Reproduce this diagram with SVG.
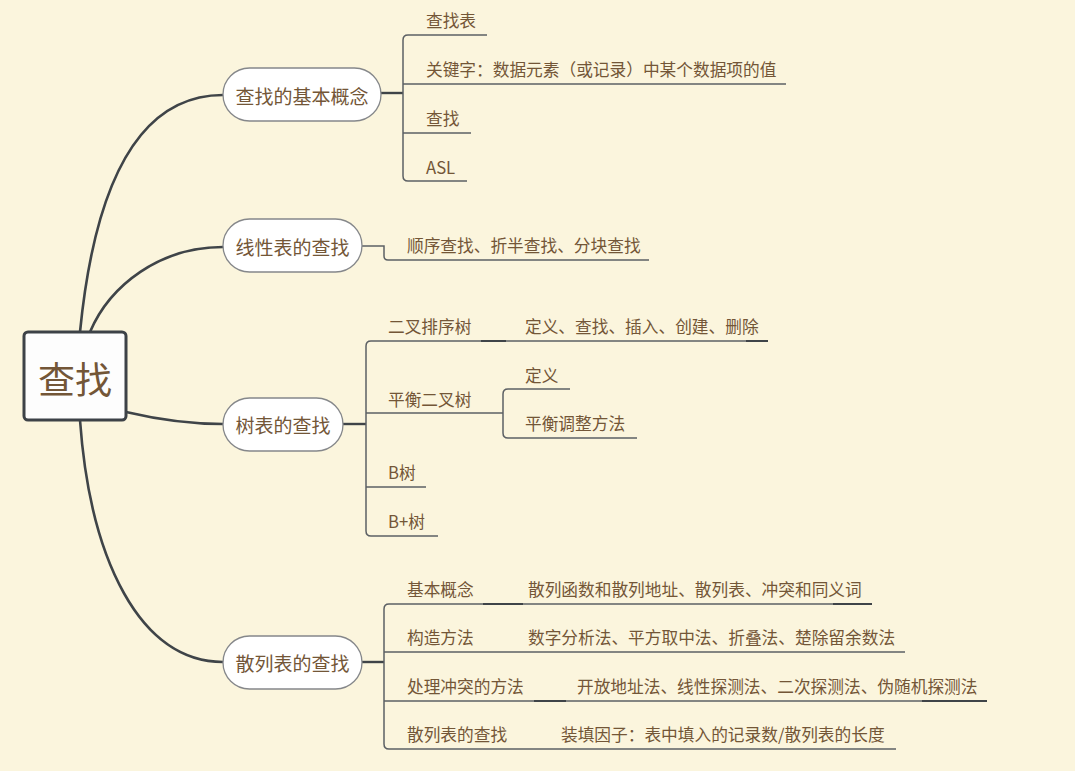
<svg xmlns="http://www.w3.org/2000/svg" width="1075" height="771" viewBox="0 0 1075 771">
<style>
.bg{fill:#fbf5dd}
.main{fill:none;stroke:#3f4448;stroke-width:2.6;stroke-linecap:round}
.sub{fill:none;stroke:#5c6064;stroke-width:1.5}
.stub{fill:none;stroke:#3f4448;stroke-width:2.4}
.ov{fill:none;stroke:#3f4448;stroke-width:1.8}
.node{fill:#ffffff;stroke:#85878a;stroke-width:1.3}
.root{fill:#fdfdfd;stroke:#3d4247;stroke-width:3}
text{font-family:"Noto Sans CJK SC","Noto Sans",sans-serif;fill:#735637}
.t1{font-size:19px;text-anchor:middle;dominant-baseline:central}
.t0{font-size:37px;text-anchor:middle;dominant-baseline:central}
.t2{font-size:16.7px}
</style>
<rect class="bg" x="0" y="0" width="1075" height="771"/>
<g id="connectors">
<path class="main" d="M 80 332 C 95 180, 140 95, 223 95"/>
<path class="main" d="M 90 332 C 110 285, 160 247, 223 247"/>
<path class="main" d="M 126 412 C 160 420, 190 424, 223 424"/>
<path class="main" d="M 80 420 C 90 560, 140 662, 223 662"/>
<path class="stub" d="M 381 93 H 403"/>
<path class="sub" d="M 487 35 H 408 Q 403 35 403 40 V 176 Q 403 181 408 181 H 467"/>
<path class="sub" d="M 403 84 H 786 M 403 133 H 471"/>
<path class="sub" d="M 362 246 H 384 V 256 Q 384 260 388 260 H 649"/>
<path class="stub" d="M 343 424 H 366"/>
<path class="sub" d="M 768 341 H 371 Q 366 341 366 346 V 531 Q 366 536 371 536 H 438"/>
<path class="sub" d="M 366 413 H 503 M 366 487 H 426"/>
<path class="sub" d="M 570 389 H 508 Q 503 389 503 394 V 433 Q 503 438 508 438 H 637"/>
<path class="ov" d="M 481 341 H 506 M 746 341 H 768"/>
<path class="stub" d="M 362 662 H 384"/>
<path class="sub" d="M 872 604 H 389 Q 384 604 384 609 V 744 Q 384 749 389 749 H 896"/>
<path class="sub" d="M 384 652 H 905 M 384 701 H 987"/>
<path class="ov" d="M 483 604 H 523 M 833 604 H 872 M 534 701 H 566 M 922 701 H 987"/>
</g>
<g id="root">
<rect class="root" x="24" y="332" width="102" height="88" rx="4"/>
<text class="t0" x="75" y="378">查找</text>
</g>
<g id="n1">
<rect class="node" x="223" y="68" width="158" height="53" rx="26.5"/>
<text class="t1" x="302" y="95">查找的基本概念</text>
</g>
<g id="n1a"><text class="t2" x="426" y="27">查找表</text></g>
<g id="n1b"><text class="t2" x="426" y="76">关键字：数据元素（或记录）中某个数据项的值</text></g>
<g id="n1c"><text class="t2" x="426" y="125">查找</text></g>
<g id="n1d"><text class="t2" x="426" y="174">ASL</text></g>
<g id="n2">
<rect class="node" x="223" y="219" width="139" height="53" rx="26.5"/>
<text class="t1" x="292.5" y="246">线性表的查找</text>
</g>
<g id="n2a"><text class="t2" x="407" y="252">顺序查找、折半查找、分块查找</text></g>
<g id="n3">
<rect class="node" x="223" y="398" width="120" height="53" rx="26.5"/>
<text class="t1" x="283" y="424">树表的查找</text>
</g>
<g id="n3a"><text class="t2" x="388" y="333">二叉排序树</text></g>
<g id="n3a1"><text class="t2" x="525" y="333">定义、查找、插入、创建、删除</text></g>
<g id="n3b"><text class="t2" x="388" y="406">平衡二叉树</text></g>
<g id="n3b1"><text class="t2" x="525" y="382">定义</text></g>
<g id="n3b2"><text class="t2" x="525" y="430">平衡调整方法</text></g>
<g id="n3c"><text class="t2" x="388" y="479">B树</text></g>
<g id="n3d"><text class="t2" x="388" y="528">B+树</text></g>
<g id="n4">
<rect class="node" x="223" y="636" width="139" height="53" rx="26.5"/>
<text class="t1" x="292.5" y="662">散列表的查找</text>
</g>
<g id="n4a"><text class="t2" x="407" y="596">基本概念</text></g>
<g id="n4a1"><text class="t2" x="528" y="596">散列函数和散列地址、散列表、冲突和同义词</text></g>
<g id="n4b"><text class="t2" x="407" y="644">构造方法</text></g>
<g id="n4b1"><text class="t2" x="528" y="644">数字分析法、平方取中法、折叠法、楚除留余数法</text></g>
<g id="n4c"><text class="t2" x="407" y="693">处理冲突的方法</text></g>
<g id="n4c1"><text class="t2" x="577" y="693">开放地址法、线性探测法、二次探测法、伪随机探测法</text></g>
<g id="n4d"><text class="t2" x="407" y="741">散列表的查找</text></g>
<g id="n4d1"><text class="t2" x="561" y="741">装填因子：表中填入的记录数/散列表的长度</text></g>
</svg>
